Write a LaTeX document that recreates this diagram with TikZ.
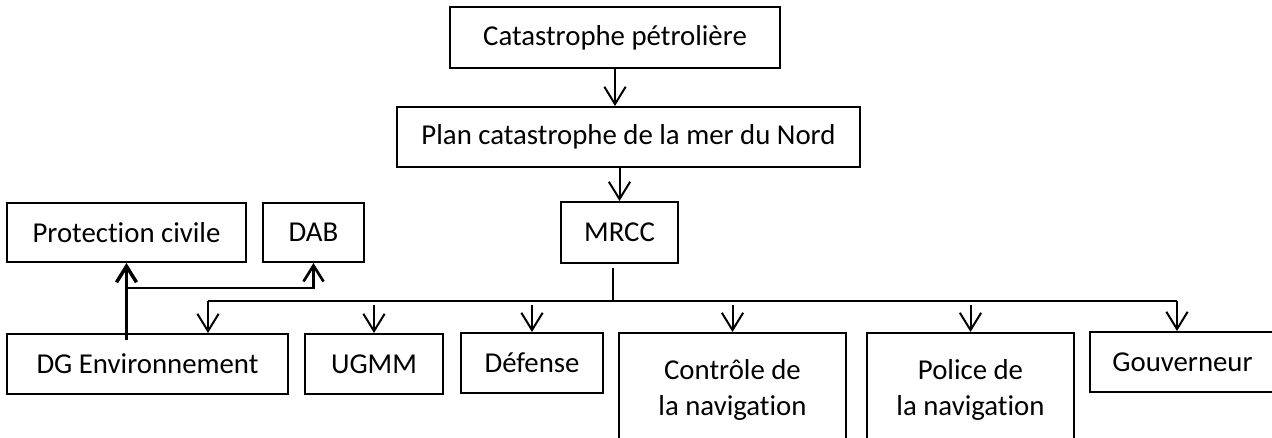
\documentclass[tikz,border=0pt]{standalone}
\usepackage{fontspec}
\setmainfont{Carlito}[Ligatures=NoCommon]
\usetikzlibrary{arrows.meta}

\begin{document}
\begin{tikzpicture}[x=0.75pt,y=-0.75pt,font=\fontsize{21.6}{27}\selectfont,
  boite/.style={draw,line width=1.5pt,inner sep=0pt,align=center},
  trait/.style={line width=1.5pt},
  fleche/.style={line width=1.5pt,-{Straight Barb[length=13pt,width=16pt]}},
  fleche epaisse/.style={line width=#1,-{Straight Barb[length=12pt,width=15pt]}}]
\clip (0,0) rectangle (1272,437);
% boxes: name/x/y/width/height/text, all in pixels of the page
\foreach \nom/\x/\y/\w/\h/\txt in {%
  cat/615/37.5/330/61/{Catastrophe pétrolière},
  plan/628.5/137/463/60/{Plan catastrophe de la mer du Nord},
  mrcc/619.5/232.5/117/61/{MRCC},
  prot/126.5/232.5/239/59/{Protection civile},
  dab/313.5/232.5/101/59/{DAB},
  dgenv/147.5/364/281/60/{DG Environnement},
  ugmm/374/364/138/60/{UGMM},
  def/532/363/142/60/{Défense},
  ctrl/732.5/390/227/114/{Contrôle de\\la navigation},
  pol/970.5/390/207/114/{Police de\\la navigation},
  gouv/1182.5/362/185/60/{Gouverneur}}{
  \node[boite,minimum width=\w*0.75pt,minimum height=\h*0.75pt] (\nom) at (\x,\y) {\txt};}
% top chain
\draw[fleche] (cat.south) -- (cat.south |- plan.north);
\draw[fleche] (mrcc.north |- plan.south) -- (mrcc.north);
% distribution line under MRCC
\coordinate (pied) at (613,268);
\coordinate (busg) at (208,301);
\coordinate (busd) at (1177,301);
\draw[trait] (pied) -- (pied |- busg);
\draw[trait] (busg) -- (busd);
\draw[fleche] (busg) -- (busg |- dgenv.north);
\draw[fleche] (busd) -- (busd |- gouv.north);
\foreach \n in {ugmm,def,ctrl,pol}
  \draw[fleche] ([yshift=-3pt]\n.north |- busg) -- (\n.north);
% DG Environnement towards Protection civile and DAB
\coordinate (depart) at (126.5,340);
\coordinate (embr) at (126.5,288);
\draw[fleche epaisse=2.6pt] (depart) -- (prot.south);
\draw[fleche epaisse=2pt] (embr) -| (dab.south);
\end{tikzpicture}
\end{document}
